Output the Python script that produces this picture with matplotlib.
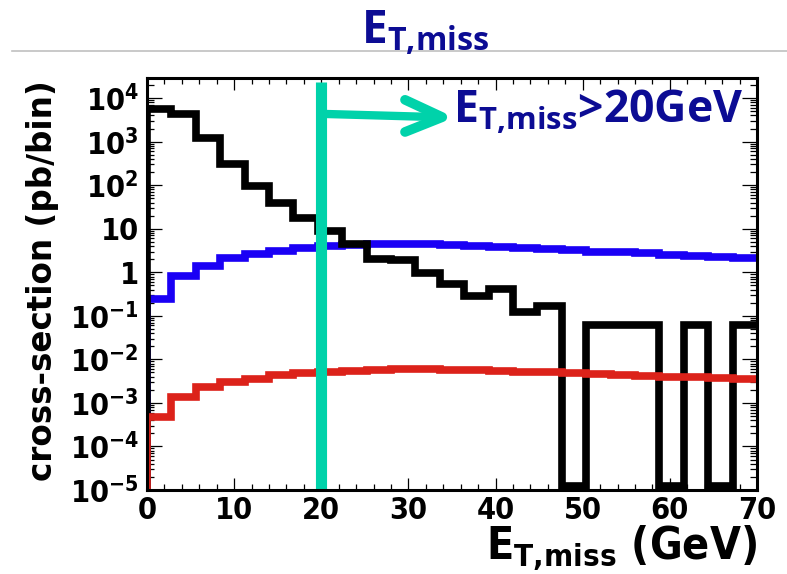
import numpy as np
import matplotlib
matplotlib.use("Agg")
import matplotlib.pyplot as plt
from matplotlib import font_manager
from matplotlib.ticker import FixedLocator, FixedFormatter, MultipleLocator, LogLocator, NullFormatter
from matplotlib.lines import Line2D

# ---------------- data ----------------
x_min, x_max, n_bins = 0.0, 70.0, 25
cut_value = 20.0

# black histogram (background), 0 = empty bin
black_values = [5600, 4300, 1200, 300, 95, 40, 18, 9.0, 4.5, 2.0, 1.9, 0.95, 0.55,
                0.29, 0.42, 0.12, 0.17, 0, 0.062, 0.062, 0.062, 0, 0.062, 0, 0.062]
# blue histogram
blue_values = [0.25, 0.81, 1.41, 2.1, 2.6, 3.1, 3.55, 4.0, 4.3, 4.4, 4.4, 4.4, 4.3,
               4.1, 3.8, 3.55, 3.4, 3.2, 3.0, 2.85, 2.75, 2.55, 2.4, 2.3, 2.1]
# red histogram
red_values = [4.7e-4, 1.4e-3, 2.3e-3, 3.1e-3, 3.6e-3, 4.4e-3, 4.8e-3, 5.0e-3, 5.5e-3,
              5.7e-3, 5.9e-3, 6.0e-3, 5.8e-3, 5.6e-3, 5.5e-3, 5.2e-3, 5.0e-3, 4.85e-3,
              4.6e-3, 4.4e-3, 4.25e-3, 4.0e-3, 3.85e-3, 3.7e-3, 3.6e-3]

y_ticks = [1e-5, 1e-4, 1e-3, 1e-2, 1e-1, 1, 10, 1e2, 1e3, 1e4]
y_tick_labels = [r"$\mathbf{10^{-5}}$", r"$\mathbf{10^{-4}}$", r"$\mathbf{10^{-3}}$",
                 r"$\mathbf{10^{-2}}$", r"$\mathbf{10^{-1}}$", "1", "10",
                 r"$\mathbf{10^{2}}$", r"$\mathbf{10^{3}}$", r"$\mathbf{10^{4}}$"]
x_ticks = [0, 10, 20, 30, 40, 50, 60, 70]
x_tick_labels = ["0", "10", "20", "30", "40", "50", "60", "70"]
y_min, y_max = 1e-5, 2.9e4

title_text = r"$\mathsf{E_{T{,}miss}}$"
cut_text = r"$\mathsf{E_{T{,}miss}}$>20GeV"
x_label = r"$\mathbf{E_{T{,}miss}}$ (GeV)"
y_label = "cross-section (pb/bin)"

# ---------------- fonts ----------------
ttf = font_manager.fontManager.ttflist
names = {f.name for f in ttf}
cond_ok = any(f.name == "DejaVu Sans" and f.stretch == "condensed" and
              (f.weight == "bold" or f.weight == 700) for f in ttf)
if "Liberation Sans Narrow" in names:
    tick_family, tick_stretch = "Liberation Sans Narrow", "normal"
    math_bf = "Liberation Sans Narrow:bold"
elif cond_ok:
    tick_family, tick_stretch = "DejaVu Sans", "condensed"
    math_bf = "DejaVu Sans:bold:stretch=condensed"
else:
    tick_family, tick_stretch = "Liberation Sans", "normal"
    math_bf = "Liberation Sans:bold"
calib = "Open Sans" if "Open Sans" in names else "Lato"
plt.rcParams["mathtext.fontset"] = "custom"
plt.rcParams["mathtext.bf"] = math_bf
plt.rcParams["mathtext.rm"] = math_bf
plt.rcParams["mathtext.sf"] = f"{calib}:bold"

BLACK = "#000000"
BLUE = "#1a00f5"
RED = "#dc221a"
CYAN = "#00d2aa"
NAVY = "#0c0c94"

fig = plt.figure(figsize=(7.87, 5.74), dpi=100)
ax = fig.add_axes([147/787, 1-490/574, 610/787, 412/574])

edges = np.linspace(x_min, x_max, n_bins + 1)
floor = y_min * 10**0.1
lw = 5.5

def draw_hist(vals, color, z):
    v = np.asarray(vals, dtype=float)
    v = np.where(v > 0, v, floor)
    ax.stairs(v, edges, baseline=None, color=color, lw=lw, zorder=z,
              joinstyle="miter", capstyle="projecting")
    ax.vlines(edges[0], floor * 0.5, v[0], color=color, lw=lw, zorder=z)

draw_hist(blue_values, BLUE, 2)
draw_hist(black_values, BLACK, 3)
draw_hist(red_values, RED, 4)

ax.axvline(cut_value, ymin=0, ymax=0.99, color=CYAN, lw=8, zorder=5, solid_capstyle="butt")
# arrow
ax.plot([0.285, 0.478], [0.913, 0.905], transform=ax.transAxes, color=CYAN, lw=6,
        solid_capstyle="round", zorder=6, clip_on=False)
ax.plot([0.423, 0.484, 0.423], [0.947, 0.905, 0.869], transform=ax.transAxes, color=CYAN,
        lw=7, solid_capstyle="round", solid_joinstyle="round", zorder=6, clip_on=False)
ax.text(0.502, 0.893, cut_text, transform=ax.transAxes, color=NAVY, fontsize=32,
        fontfamily=calib, fontweight="bold", ha="left", va="baseline", zorder=7)

ax.set_yscale("log")
ax.set_xlim(x_min, x_max)
ax.set_ylim(y_min, y_max)

ax.xaxis.set_major_locator(FixedLocator(x_ticks))
ax.xaxis.set_major_formatter(FixedFormatter(x_tick_labels))
ax.xaxis.set_minor_locator(MultipleLocator(2))
ax.yaxis.set_major_locator(FixedLocator(y_ticks))
ax.yaxis.set_major_formatter(FixedFormatter(y_tick_labels))
ax.yaxis.set_minor_locator(LogLocator(base=10, subs=np.arange(2, 10), numticks=50))
ax.yaxis.set_minor_formatter(NullFormatter())

for lab in ax.get_xticklabels() + ax.get_yticklabels():
    lab.set_fontfamily(tick_family)
    lab.set_fontstretch(tick_stretch)
    lab.set_fontweight("bold")
    lab.set_fontsize(22)

ax.tick_params(axis="both", which="both", direction="in", top=True, right=True, width=0.9, colors="black")
ax.tick_params(axis="x", which="major", length=8.6, pad=4)
ax.tick_params(axis="x", which="minor", length=4.3)
ax.tick_params(axis="y", which="major", length=10.8, pad=6)
ax.tick_params(axis="y", which="minor", length=5)
for s in ax.spines.values():
    s.set_linewidth(2.2)
    s.set_zorder(10)

ax.set_xlabel(x_label, fontsize=32, fontfamily=tick_family, fontstretch=tick_stretch,
              fontweight="bold", ha="right", va="top")
ax.xaxis.set_label_coords(1.0, -0.083)
ax.set_ylabel(y_label, fontsize=23.5, fontfamily="DejaVu Sans", fontweight="bold", va="center")
ax.yaxis.set_label_coords(-0.172, 0.507)

fig.text(425/787, 1-43/574, title_text, color=NAVY, fontsize=33, ha="center", va="baseline")
fig.add_artist(Line2D([12/787, 1.0], [1-51/574, 1-51/574], transform=fig.transFigure,
                      color="#c0c0c0", lw=1.2))

fig.savefig("out.png", dpi=100)
